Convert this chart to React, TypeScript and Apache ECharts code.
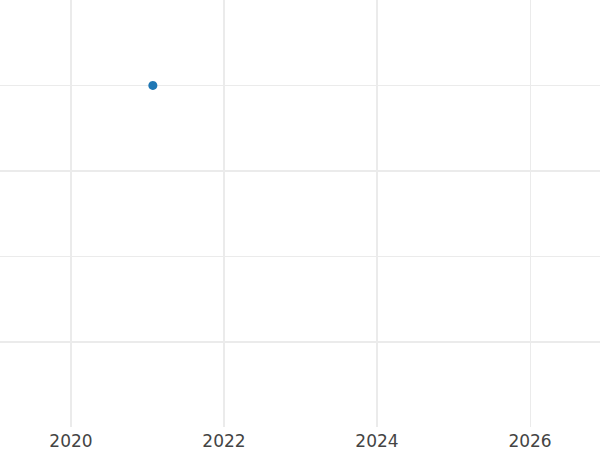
import React, { useEffect, useRef } from "react";
import * as echarts from "echarts";

const xTickLabels = [2020, 2022, 2024, 2026];
const xMajorLines = [2020, 2022, 2024];
const xMinorLines = [2026];
const yMajorLines = [1, 3];
const yMinorLines = [2, 4];
const pointX = [2021.07];
const pointY = [4];

export default function App() {
  const ref = useRef<HTMLDivElement>(null);
  useEffect(() => {
    if (!ref.current) return;
    const chart = echarts.init(ref.current, null, { renderer: "svg" });
    const gridColor = "#ebebeb";
    chart.setOption({
      animation: false,
      backgroundColor: "#fff",
      grid: { left: 0, right: 0, top: 0, bottom: 23, containLabel: false },
      xAxis: [
        {
          type: "value",
          min: 2019.072,
          max: 2026.915,
          axisLine: { show: false },
          axisTick: { show: false, customValues: xMajorLines },
          axisLabel: {
            customValues: xTickLabels,
            color: "#444",
            fontFamily: "'DejaVu Sans', sans-serif",
            fontSize: 17,
            margin: 5,
            formatter: (v: number) => String(Math.round(v)),
          },
          splitLine: { show: true, lineStyle: { color: gridColor, width: 2 } },
        },
        {
          type: "value",
          min: 2019.072,
          max: 2026.915,
          position: "bottom",
          axisLine: { show: false },
          axisTick: { show: false, customValues: xMinorLines },
          axisLabel: { show: false },
          splitLine: { show: true, lineStyle: { color: gridColor, width: 1 } },
        },
      ],
      yAxis: [
        {
          type: "value",
          min: 0,
          max: 5,
          axisLine: { show: false },
          axisTick: { show: false, customValues: yMajorLines },
          axisLabel: { show: false },
          splitLine: { show: true, lineStyle: { color: gridColor, width: 2 } },
        },
        {
          type: "value",
          min: 0,
          max: 5,
          position: "left",
          axisLine: { show: false },
          axisTick: { show: false, customValues: yMinorLines },
          axisLabel: { show: false },
          splitLine: { show: true, lineStyle: { color: gridColor, width: 1 } },
        },
      ],
      series: [
        {
          type: "scatter",
          data: pointX.map((x, i) => [x, pointY[i]]),
          symbolSize: 9,
          itemStyle: { color: "#1f77b4", opacity: 1 },
        },
      ],
    });
    return () => chart.dispose();
  }, []);
  return <div ref={ref} style={{ width: 600, height: 450, position: "absolute", left: 0, top: 0 }} />;
}
